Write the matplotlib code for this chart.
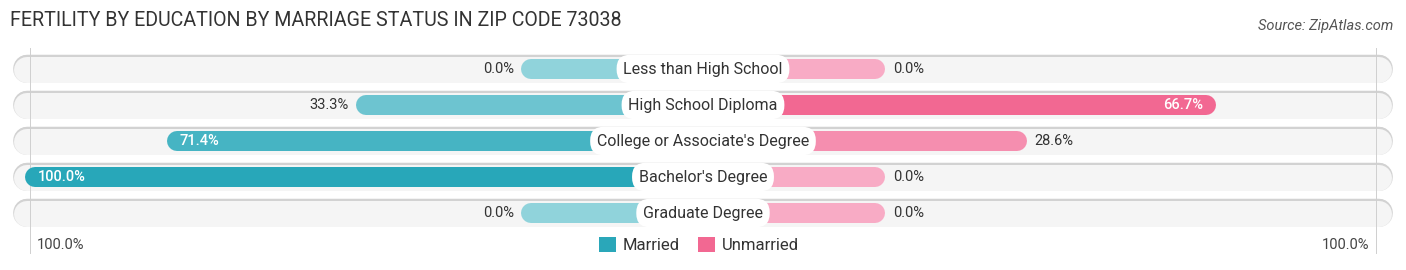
import matplotlib
matplotlib.use("Agg")
import matplotlib.pyplot as plt
from matplotlib.patches import Patch
import numpy as np

# ---- data ----
categories = ["Less than High School", "High School Diploma",
              "College or Associate's Degree", "Bachelor's Degree", "Graduate Degree"]
married = [0.0, 33.3, 71.4, 100.0, 0.0]
unmarried = [0.0, 66.7, 28.6, 0.0, 0.0]
series_names = ["Married", "Unmarried"]
title = "FERTILITY BY EDUCATION BY MARRIAGE STATUS IN ZIP CODE 73038"
source = "Source: ZipAtlas.com"
axis_label = "100.0%"

# ---- style ----
W, H, DPI = 1406, 270, 100
CX = 703            # center pixel
PXU = 4.96          # pixels per percent unit
ROW0, ROWH = 69, 36 # first row center & row spacing (px)
OFFSET = 182 / PXU  # bar offset from center (units)
FONT = "Roboto"

m_light, m_dark = np.array([0x90, 0xd3, 0xdb]) / 255, np.array([0x28, 0xa7, 0xb9]) / 255
u_light, u_dark = np.array([0xf8, 0xab, 0xc5]) / 255, np.array([0xef, 0x47, 0x79]) / 255
legend_colors = ["#2aa7b9", "#f26892"]

def blend(lo, hi, v):
    t = v / 100.0
    return tuple(lo * (1 - t) + hi * t)

def pt(px):
    return px * 72.0 / DPI

fig = plt.figure(figsize=(W / DPI, H / DPI), dpi=DPI)
ax = fig.add_axes([0, 0, 1, 1])
ax.set_xlim(-CX / PXU, (W - CX) / PXU)
ax.set_ylim((H - ROW0) / ROWH, -ROW0 / ROWH)
ax.axis("off")

r_bar = 10 / PXU
r_trk = 14 / PXU
trk_half = 690 / PXU

for i, cat in enumerate(categories):
    # track (border with darker top edge, light fill)
    ax.plot([-trk_half + r_trk, trk_half - r_trk], [i, i],
            color="#dddddd", lw=pt(28), solid_capstyle="round", zorder=1)
    ax.plot([-trk_half + r_trk, trk_half - r_trk], [i - 0.8 / ROWH, i - 0.8 / ROWH],
            color="#d2d2d2", lw=pt(26.5), solid_capstyle="round", zorder=1.1)
    ax.plot([-trk_half + r_trk, trk_half - r_trk], [i + 0.6 / ROWH, i + 0.6 / ROWH],
            color="#f5f5f5", lw=pt(26), solid_capstyle="round", zorder=1.2)

    # married bar
    mv = married[i]
    mend = -(OFFSET + mv)
    ax.plot([mend + r_bar, 0], [i, i], color=blend(m_light, m_dark, mv),
            lw=pt(20), solid_capstyle="round", zorder=3)
    # unmarried bar
    uv = unmarried[i]
    uend = OFFSET + uv
    ax.plot([0, uend - r_bar], [i, i], color=blend(u_light, u_dark, uv),
            lw=pt(20), solid_capstyle="round", zorder=3)

    # value labels
    if mv > 50:
        ax.text(mend + 13 / PXU, i, f"{mv:.1f}%", ha="left", va="center",
                color="white", fontsize=10.5, family=FONT, fontweight="medium", zorder=5)
    else:
        ax.text(mend - 7 / PXU, i, f"{mv:.1f}%", ha="right", va="center",
                color="#333333", fontsize=10.5, family=FONT, zorder=5)
    if uv > 50:
        ax.text(uend - 13 / PXU, i, f"{uv:.1f}%", ha="right", va="center",
                color="white", fontsize=10.5, family=FONT, fontweight="medium", zorder=5)
    else:
        ax.text(uend + 8 / PXU, i, f"{uv:.1f}%", ha="left", va="center",
                color="#333333", fontsize=10.5, family=FONT, zorder=5)

    # category label
    ax.text(0, i, cat, ha="center", va="center", fontsize=11.5, family=FONT,
            color="#333333", zorder=6,
            bbox=dict(boxstyle="round,pad=0.42,rounding_size=0.85", fc="white", ec="none"))

# faint vertical guide lines
for s in (-1, 1):
    ax.plot([s * (OFFSET + 100 - 1), s * (OFFSET + 100 - 1)],
            [-0.5 - 3 / ROWH, (253 - ROW0) / ROWH], color="#cfcfcf", lw=0.7, zorder=2)

# bottom axis labels
ybot = (245 - ROW0) / ROWH
ax.text(-(OFFSET + 100) + 12 / PXU, ybot, axis_label, ha="left", va="center",
        fontsize=10.5, family=FONT, color="#444444")
ax.text((OFFSET + 100) - 12 / PXU, ybot, axis_label, ha="right", va="center",
        fontsize=10.5, family=FONT, color="#444444")

# legend
handles = [Patch(facecolor=c, edgecolor="none", label=n)
           for c, n in zip(legend_colors, series_names)]
leg = ax.legend(handles=handles, loc="center", bbox_to_anchor=(699 / W, 1 - 245 / H),
                ncol=2, frameon=False, handlelength=1.02, handleheight=1.02,
                handletextpad=0.4, columnspacing=1.1, borderaxespad=0,
                prop={"family": FONT, "size": 12})
for t in leg.get_texts():
    t.set_color("#333333")

# title & source
fig.text(10 / W, 1 - 21 / H, title, ha="left", va="center", fontsize=14.1,
         family=FONT, color="#333333")
fig.text(1393 / W, 1 - 26 / H, source, ha="right", va="center", fontsize=10.5,
         family=FONT, style="italic", color="#555555")

fig.savefig("out.png", dpi=DPI)
